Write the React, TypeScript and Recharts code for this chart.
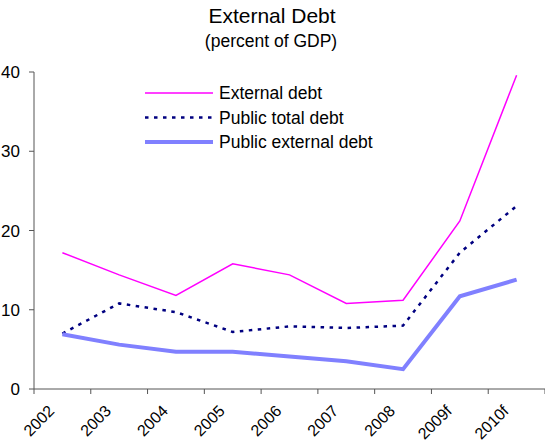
import React from "react";
import { LineChart, Line, XAxis, YAxis } from "recharts";

// Values (percent of GDP)
const categories = ["2002", "2003", "2004", "2005", "2006", "2007", "2008", "2009f", "2010f"];
const externalDebt = [17.2, 14.4, 11.8, 15.8, 14.4, 10.8, 11.2, 21.2, 39.6];
const publicTotalDebt = [7.0, 10.8, 9.7, 7.2, 7.9, 7.7, 8.0, 17.2, 23.1];
const publicExternalDebt = [6.9, 5.6, 4.7, 4.7, 4.1, 3.5, 2.5, 11.7, 13.8];
const yTicks = [0, 10, 20, 30, 40];

const FONT = "'Liberation Sans', Arial, sans-serif";
const WIDTH = 545;
const HEIGHT = 444;
const Y_AXIS_WIDTH = 34;
const BAND = (WIDTH - Y_AXIS_WIDTH) / categories.length;

// each category sits in the middle of its band, ticks go between bands
const data = categories.map((c, i) => ({
  pos: i + 0.5,
  category: c,
  external: externalDebt[i],
  publicTotal: publicTotalDebt[i],
  publicExternal: publicExternalDebt[i],
}));

const series = [
  { key: "external", name: "External debt", color: "#FF00FF", width: 1.5, dash: undefined },
  { key: "publicTotal", name: "Public total debt", color: "#000080", width: 2.5, dash: "3.5 5.5" },
  { key: "publicExternal", name: "Public external debt", color: "#8080FF", width: 4, dash: undefined },
];

const boundaryTicks = categories.map((_, i) => i).concat(categories.length);

const XTick = (props: any) => {
  const { x, y, payload } = props;
  const label = categories[payload.value];
  if (!label) return null;
  const ax = x + BAND / 2 - 7;
  const ay = y + 18;
  return (
    <text
      x={ax}
      y={ay}
      textAnchor="end"
      transform={`rotate(-45, ${ax}, ${ay})`}
      fontSize={16}
      fontFamily={FONT}
      fill="#000"
    >
      {label}
    </text>
  );
};

export default function App() {
  return (
    <div style={{ position: "absolute", left: 0, top: 0, width: WIDTH, height: HEIGHT, background: "#fff" }}>
      <LineChart
        width={WIDTH}
        height={HEIGHT}
        data={data}
        margin={{ top: 72, right: 0, left: 0, bottom: 0 }}
      >
        <XAxis
          dataKey="pos"
          type="number"
          domain={[0, categories.length]}
          ticks={boundaryTicks}
          interval={0}
          height={55}
          stroke="#555"
          tickSize={5}
          tickMargin={0}
          tick={<XTick />}
        />
        <YAxis
          type="number"
          domain={[0, 40]}
          ticks={yTicks}
          width={Y_AXIS_WIDTH}
          stroke="#555"
          tickSize={5}
          tickMargin={9}
          tick={{ fill: "#000", fontSize: 17, fontFamily: FONT }}
        />
        {series.map((s) => (
          <Line
            key={s.key}
            dataKey={s.key}
            name={s.name}
            type="linear"
            stroke={s.color}
            strokeWidth={s.width}
            strokeDasharray={s.dash}
            dot={false}
            activeDot={false}
            isAnimationActive={false}
          />
        ))}
      </LineChart>
      <svg
        width={WIDTH}
        height={HEIGHT}
        style={{ position: "absolute", left: 0, top: 0, pointerEvents: "none" }}
      >
        <text x={272} y={23} textAnchor="middle" fontSize={21} fontFamily={FONT} fill="#000">
          External Debt
        </text>
        <text x={271} y={47} textAnchor="middle" fontSize={17.5} fontFamily={FONT} fill="#000">
          (percent of GDP)
        </text>
        {series.map((s, i) => {
          const ly = 93 + i * 24.5;
          return (
            <g key={s.key}>
              <line
                x1={145}
                x2={213}
                y1={ly}
                y2={ly}
                stroke={s.color}
                strokeWidth={s.width}
                strokeDasharray={s.dash}
              />
              <text x={219} y={ly + 6} fontSize={17.5} fontFamily={FONT} fill="#000">
                {s.name}
              </text>
            </g>
          );
        })}
      </svg>
    </div>
  );
}
